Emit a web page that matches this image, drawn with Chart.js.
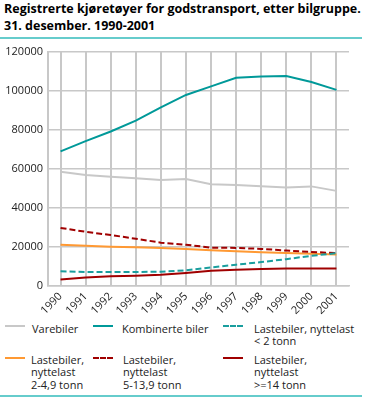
<!DOCTYPE html>
<html>
<head>
<meta charset="utf-8">
<script src="https://cdn.jsdelivr.net/npm/chart.js@4/dist/chart.umd.min.js"></script>
<style>
  html, body { margin: 0; padding: 0; background: #fff; }
  body { width: 368px; height: 397px; position: relative; overflow: hidden; font-family: "Open Sans", sans-serif; color: #222; }
  #title { position: absolute; left: 4px; top: 1px; font-weight: bold; font-size: 12.5px; line-height: 16.7px; color: #000; white-space: nowrap; }
  .rule { position: absolute; left: 0; width: 362px; height: 2px; background: #66cccc; }
  #wrap { position: absolute; left: 0; top: 40px; width: 368px; height: 276px; }
  #legend { position: absolute; left: 0; top: 318px; width: 368px; height: 76px; }
  .item { position: absolute; font-size: 11px; line-height: 12.8px; white-space: pre-line; }
  .swatch { position: absolute; width: 20px; height: 0; }
  .txt { position: absolute; }
</style>
</head>
<body>
<div id="title">Registrerte kjøretøyer for godstransport, etter bilgruppe.<br>31. desember. 1990-2001</div>
<div class="rule" style="top:37px"></div>
<div id="wrap"><canvas id="c" width="368" height="276"></canvas></div>
<div id="legend"></div>
<div class="rule" style="top:395px"></div>
<script>
const years = ["1990","1991","1992","1993","1994","1995","1996","1997","1998","1999","2000","2001"];
const yTicks = [0, 20000, 40000, 60000, 80000, 100000, 120000];

const varebiler      = [58500, 56800, 55950, 55100, 54300, 54800, 52050, 51750, 51050, 50400, 51000, 48700];
const kombinerte     = [68900, 74200, 79100, 84650, 91400, 97800, 102200, 106600, 107200, 107450, 104400, 100400];
const last_u2        = [7500, 7200, 7200, 7200, 7300, 8000, 9500, 10900, 12250, 13750, 15450, 16800];
const last_2_49      = [21150, 20650, 20150, 19800, 19500, 19000, 18300, 17800, 17300, 16950, 16450, 16100];
const last_5_139     = [29750, 27750, 26100, 24200, 22200, 21150, 19650, 19500, 19000, 18150, 17450, 16800];
const last_o14       = [3300, 4300, 5000, 5300, 5800, 6700, 7850, 8350, 8700, 9000, 9000, 9000];

const seriesLabels = [
  "Varebiler",
  "Kombinerte biler",
  "Lastebiler, nyttelast\n< 2 tonn",
  "Lastebiler,\nnyttelast\n2-4,9 tonn",
  "Lastebiler,\nnyttelast\n5-13,9 tonn",
  "Lastebiler,\nnyttelast\n>=14 tonn"
];
const seriesData = [varebiler, kombinerte, last_u2, last_2_49, last_5_139, last_o14];
const seriesColors = ["#c8c8c8", "#009999", "#1a9e9e", "#ff9933", "#a00000", "#a00000"];
const seriesDash = [[], [], [6, 3], [], [6, 3], []];

const datasets = seriesData.map((d, i) => ({
  label: seriesLabels[i],
  data: d,
  borderColor: seriesColors[i],
  backgroundColor: seriesColors[i],
  borderWidth: 2,
  borderDash: seriesDash[i],
  pointRadius: 0,
  tension: 0,
  fill: false
}));
const order = [0, 1, 3, 4, 2, 5];
order.forEach((idx, k) => { datasets[idx].order = 10 - k; });

const font = { family: "Open Sans", size: 11 };

new Chart(document.getElementById("c"), {
  type: "line",
  data: { labels: years, datasets },
  options: {
    responsive: false,
    animation: false,
    layout: { padding: { top: 8, right: 19, left: 0, bottom: 0 } },
    plugins: { legend: { display: false }, tooltip: { enabled: false } },
    scales: {
      x: {
        offset: true,
        grid: { color: "#c8c8c8", lineWidth: 2, offset: false, drawTicks: false },
        border: { color: "#c8c8c8", width: 1.5 },
        ticks: { font, color: "#222", maxRotation: 45, minRotation: 45, padding: 4, autoSkip: false },
        afterFit: s => { s.height = 30; }
      },
      y: {
        min: 0, max: 120000,
        afterBuildTicks: s => { s.ticks = yTicks.map(v => ({ value: v })); },
        grid: { color: "#c8c8c8", lineWidth: 1.5, drawTicks: false },
        border: { color: "#c8c8c8", width: 2 },
        ticks: { font, color: "#222", padding: 5, callback: v => String(v) },
        afterFit: s => { s.width = 48; }
      }
    }
  }
});

// HTML legend built from the series
const legendPos = [
  { x: 5, tx: 32, y: 4.5, ly: 6.7 }, { x: 93, tx: 122, y: 4.5, ly: 6.7 }, { x: 223, tx: 254, y: 4.5, ly: 6.7 },
  { x: 5, tx: 31, y: 35.5, ly: 39.3 }, { x: 93, tx: 123, y: 35.5, ly: 39.3 }, { x: 223, tx: 254, y: 35.5, ly: 39.3 }
];
const legend = document.getElementById("legend");
seriesLabels.forEach((lab, i) => {
  const p = legendPos[i];
  const sw = document.createElement("div");
  sw.className = "swatch";
  sw.style.left = p.x + "px";
  sw.style.top = p.ly + "px";
  sw.style.borderTop = "2px " + (seriesDash[i].length ? "dashed " : "solid ") + seriesColors[i];
  legend.appendChild(sw);
  const t = document.createElement("div");
  t.className = "item txt";
  t.style.left = p.tx + "px";
  t.style.top = p.y + "px";
  t.textContent = lab;
  legend.appendChild(t);
});
</script>
</body>
</html>
